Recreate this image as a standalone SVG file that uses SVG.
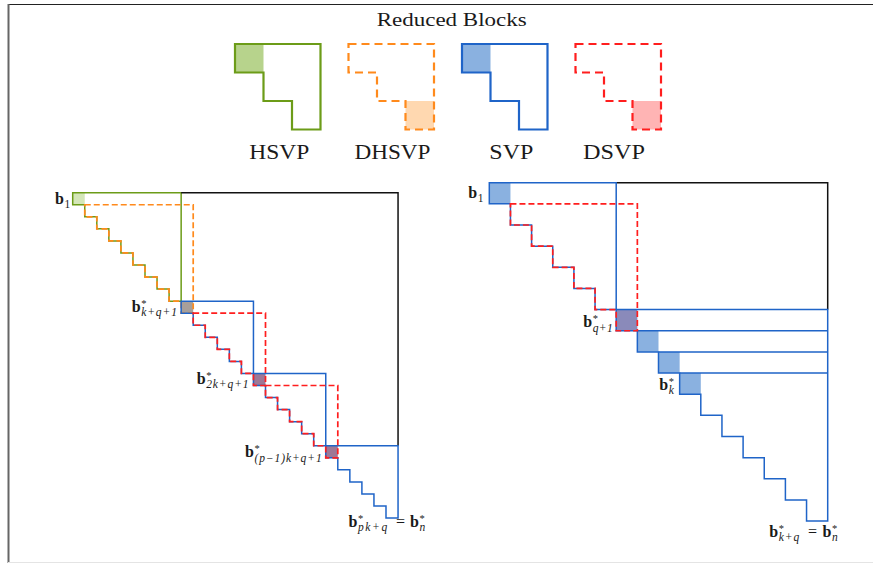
<svg xmlns="http://www.w3.org/2000/svg" width="873" height="563" viewBox="0 0 873 563">
<style>
  text { font-family: "Liberation Serif", "DejaVu Serif", serif; fill: #1a1a1a; }
  .title { font-size: 19px; }
  .lg { font-size: 21px; }
  .b { font-size: 16px; font-weight: bold; }
  .sub { font-size: 11.5px; font-style: italic; letter-spacing: 0.9px; }
  .num { font-size: 11.5px; }
  .st { font-size: 10.5px; }
  .eq { font-size: 16px; }
  .g { fill: none; stroke: #6c9c18; }
  .o { fill: none; stroke: #ff8a1c; }
  .bl { fill: none; stroke: #1f64c8; }
  .r { fill: none; stroke: #ff1e1e; }
  .k { fill: none; stroke: #111; }
  .legend use { stroke-width: 2.2; }
  .diag path { stroke-width: 1.5; }
  .legend .dash { stroke-dasharray: 8 5; }
  .diag path.dash { stroke-dasharray: 6 3; stroke-width: 1.7; }
</style>
<defs>
  <path id="lgshape" d="M0,0 H85.5 V85.5 H57 V57 H28.5 V28.5 H0 Z"/>
</defs>

<!-- frame -->
<g id="frame">
  <line x1="8" y1="4.5" x2="873" y2="4.5" stroke="#222" stroke-width="1.2"/>
  <line x1="8.5" y1="4" x2="8.5" y2="563" stroke="#666" stroke-width="2"/>
  <line x1="8" y1="562.5" x2="873" y2="562.5" stroke="#e4e4e4" stroke-width="1"/>
</g>

<text id="title" class="title" x="451.7" y="26" text-anchor="middle" textLength="150" lengthAdjust="spacingAndGlyphs">Reduced Blocks</text>

<!-- legend -->
<g id="legend" class="legend">
  <g id="lg-hsvp" transform="translate(235,44)">
    <rect x="0" y="0" width="28.5" height="28.5" fill="#b7d38c"/>
    <use href="#lgshape" class="g"/>
  </g>
  <g id="lg-dhsvp" transform="translate(348.5,44)">
    <rect x="57" y="57" width="28.5" height="28.5" fill="#ffd8b0"/>
    <use href="#lgshape" class="o dash"/>
  </g>
  <g id="lg-svp" transform="translate(462,44)">
    <rect x="0" y="0" width="28.5" height="28.5" fill="#8ab1e0"/>
    <use href="#lgshape" class="bl"/>
  </g>
  <g id="lg-dsvp" transform="translate(575.5,44)">
    <rect x="57" y="57" width="28.5" height="28.5" fill="#ffb4b4"/>
    <use href="#lgshape" class="r dash"/>
  </g>
  <text class="lg" x="279.3" y="158.5" text-anchor="middle" textLength="60" lengthAdjust="spacingAndGlyphs">HSVP</text>
  <text class="lg" x="392.5" y="158.5" text-anchor="middle" textLength="76" lengthAdjust="spacingAndGlyphs">DHSVP</text>
  <text class="lg" x="511.3" y="158.5" text-anchor="middle" textLength="44" lengthAdjust="spacingAndGlyphs">SVP</text>
  <text class="lg" x="614" y="158.5" text-anchor="middle" textLength="62" lengthAdjust="spacingAndGlyphs">DSVP</text>
</g>

<!-- left diagram -->
<g id="left" class="diag" transform="translate(72.7,192.7)">
  <rect x="0" y="0" width="12.05" height="12.05" fill="#d4e6b8"/>
  <rect x="108.45" y="108.45" width="12.05" height="12.05" fill="#a79f9a"/>
  <rect x="180.75" y="180.75" width="12.05" height="12.05" fill="#9e7896"/>
  <rect x="253.05" y="253.05" width="12.05" height="12.05" fill="#9e7896"/>
  <g id="left-connectors">
    <path class="g" d="M0,0 H108.45 V108.45 H96.4 V96.4 H84.35 V84.35 H72.3 V72.3 H60.25 V60.25 H48.2 V48.2 H36.15 V36.15 H24.1 V24.1 H12.05 V12.05 H0 Z"/>
    <path class="o dash" d="M12.05,12.05 H120.5 V120.5 H108.45 V108.45 H96.4 V96.4 H84.35 V84.35 H72.3 V72.3 H60.25 V60.25 H48.2 V48.2 H36.15 V36.15 H24.1 V24.1 H12.05 Z"/>
    <path class="k" d="M108.45,0 H325.35 V253.05"/>
    <path class="bl" d="M108.45,108.45 H180.75 V180.75 H168.7 V168.7 H156.65 V156.65 H144.6 V144.6 H132.55 V132.55 H120.5 V120.5 H108.45 Z"/>
    <path class="bl" d="M180.75,180.75 H253.05 V253.05 H241 V241 H228.95 V228.95 H216.9 V216.9 H204.85 V204.85 H192.8 V192.8 H180.75 Z"/>
    <path class="bl" d="M253.05,253.05 H325.35 V325.35 H313.3 V313.3 H301.25 V301.25 H289.2 V289.2 H277.15 V277.15 H265.1 V265.1 H253.05 Z"/>
    <path class="r dash" d="M120.5,120.5 H192.8 V192.8 H180.75 V180.75 H168.7 V168.7 H156.65 V156.65 H144.6 V144.6 H132.55 V132.55 H120.5 Z"/>
    <path class="r dash" d="M192.8,192.8 H265.1 V265.1 H253.05 V253.05 H241 V241 H228.95 V228.95 H216.9 V216.9 H204.85 V204.85 H192.8 Z"/>
  </g>
</g>

<!-- right diagram -->
<g id="right" class="diag" transform="translate(489.3,182.7)">
  <rect x="0" y="0" width="21.15" height="21.15" fill="#8ab1e0"/>
  <rect x="126.9" y="126.9" width="21.15" height="21.15" fill="#8a8aba"/>
  <rect x="148.05" y="148.05" width="21.15" height="21.15" fill="#8ab1e0"/>
  <rect x="169.2" y="169.2" width="21.15" height="21.15" fill="#8ab1e0"/>
  <rect x="190.35" y="190.35" width="21.15" height="21.15" fill="#8ab1e0"/>
  <g id="right-connectors">
    <path class="k" d="M126.9,0 H338.4 V126.9"/>
    <path class="bl" d="M0,0 H126.9 V126.9 H105.75 V105.75 H84.6 V84.6 H63.45 V63.45 H42.3 V42.3 H21.15 V21.15 H0 Z"/>
    <path class="bl" d="M126.9,126.9 H338.4 V338.4 H317.25 V317.25 H296.1 V296.1 H274.95 V274.95 H253.8 V253.8 H232.65 V232.65 H211.5 V211.5 H190.35 V190.35 H169.2 V169.2 H148.05 V148.05 H126.9 Z"/>
    <path class="bl" d="M148.05,148.05 H338.4 M169.2,169.2 H338.4 M190.35,190.35 H338.4"/>
    <path class="r dash" d="M21.15,21.15 H148.05 V148.05 H126.9 V126.9 H105.75 V105.75 H84.6 V84.6 H63.45 V63.45 H42.3 V42.3 H21.15 Z"/>
  </g>
</g>

<!-- labels left -->
<text id="lbl-left-b1"><tspan class="b" x="55" y="204">b</tspan><tspan class="num" x="64.5" y="207.5">1</tspan></text>
<text id="lbl-kq1"><tspan class="b" x="131.7" y="311.7">b</tspan><tspan class="st" x="141.2" y="306.7">*</tspan><tspan class="sub" x="141.2" y="316">k+q+1</tspan></text>
<text id="lbl-2kq1"><tspan class="b" x="196.7" y="384">b</tspan><tspan class="st" x="206.2" y="379">*</tspan><tspan class="sub" x="206.2" y="388.3">2k+q+1</tspan></text>
<text id="lbl-p1kq1"><tspan class="b" x="245" y="457.3">b</tspan><tspan class="st" x="254.5" y="452.3">*</tspan><tspan class="sub" x="254.5" y="461.6">(p−1)k+q+1</tspan></text>
<text id="lbl-pkq"><tspan class="b" x="348.5" y="526.7">b</tspan><tspan class="st" x="358" y="521.7">*</tspan><tspan class="sub" x="358" y="531" style="letter-spacing:1.6px">pk+q</tspan><tspan class="eq" x="396" y="526.7">=</tspan><tspan class="b" x="410" y="526.7">b</tspan><tspan class="st" x="419.5" y="521.7">*</tspan><tspan class="sub" x="419.5" y="531">n</tspan></text>

<!-- labels right -->
<text id="lbl-right-b1"><tspan class="b" x="468.3" y="198.3">b</tspan><tspan class="num" x="477.8" y="201.8">1</tspan></text>
<text id="lbl-q1"><tspan class="b" x="583.3" y="327.3">b</tspan><tspan class="st" x="592.8" y="322.3">*</tspan><tspan class="sub" x="592.8" y="331.6" style="letter-spacing:0.3px">q+1</tspan></text>
<text id="lbl-k"><tspan class="b" x="659.3" y="390">b</tspan><tspan class="st" x="668.8" y="385">*</tspan><tspan class="sub" x="668.8" y="394.3">k</tspan></text>
<text id="lbl-kq"><tspan class="b" x="769.3" y="536.7">b</tspan><tspan class="st" x="778.8" y="531.7">*</tspan><tspan class="sub" x="778.8" y="541">k+q</tspan><tspan class="eq" x="808" y="536.7">=</tspan><tspan class="b" x="822.5" y="536.7">b</tspan><tspan class="st" x="832" y="531.7">*</tspan><tspan class="sub" x="832" y="541">n</tspan></text>
</svg>
